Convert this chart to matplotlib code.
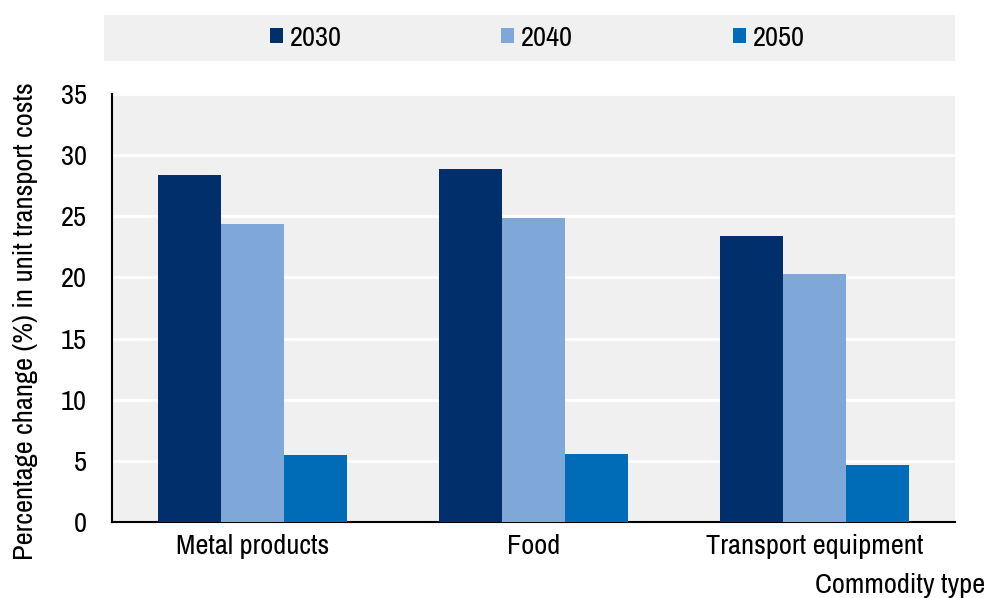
import numpy as np
import matplotlib
matplotlib.use("Agg")
import matplotlib.pyplot as plt
from matplotlib.patches import Rectangle

plt.rcParams['font.family'] = ['Archivo Narrow', 'Roboto Condensed', 'Liberation Sans', 'DejaVu Sans']

categories = ['Metal products', 'Food', 'Transport equipment']
years = ['2030', '2040', '2050']
values_2030 = [28.4, 28.9, 23.4]
values_2040 = [24.4, 24.9, 20.3]
values_2050 = [5.45, 5.6, 4.7]
colors = ['#002F6C', '#7FA8D9', '#006BB6']

fig = plt.figure(figsize=(9.86, 5.98), dpi=100)
ax = fig.add_axes([0.1136, 0.1271, 0.8550, 0.7157])

x = np.arange(len(categories))
w = 0.224
series = [values_2030, values_2040, values_2050]
handles = []
for i, (vals, yr, c) in enumerate(zip(series, years, colors)):
    b = ax.bar(x + (i - 1) * w, vals, width=w, color=c, label=yr, zorder=3)
    handles.append(b)

fs = 20.5
ax.set_facecolor('#F0F0F0')
ax.set_xlim(-0.5, 2.5)
ax.set_ylim(0, 35)
ax.set_yticks(range(0, 36, 5))
ax.set_xticks(x)
ax.set_xticklabels(categories)
ax.yaxis.grid(True, color='white', linewidth=2, zorder=0)
ax.set_axisbelow(True)
ax.tick_params(axis='both', length=0, labelsize=fs, colors='black')
ax.tick_params(axis='y', pad=18)
ax.tick_params(axis='x', pad=9)
for s in ['top', 'right']:
    ax.spines[s].set_visible(False)
for s in ['left', 'bottom']:
    ax.spines[s].set_linewidth(1.5)
    ax.spines[s].set_color('black')

ax.set_ylabel('Percentage change (%) in unit transport costs', fontsize=fs)
ax.yaxis.set_label_coords(-0.088, 0.47)
fig.text(0.999, 0.0, 'Commodity type', fontsize=fs, ha='right', va='bottom')

# grey band behind the legend
fig.patches.append(Rectangle((104 / 986, 1 - 61 / 598), (955 - 104) / 986, 46 / 598,
                             transform=fig.transFigure, facecolor='#F0F0F0',
                             edgecolor='none', zorder=0))
fig.legend(handles=handles, labels=years, loc='center', ncol=3,
           bbox_to_anchor=(0.545, 1 - 38 / 598), frameon=False, fontsize=fs,
           handlelength=0.45, handleheight=0.45, handletextpad=0.25,
           columnspacing=5.6)

fig.savefig('out.png', dpi=100)
